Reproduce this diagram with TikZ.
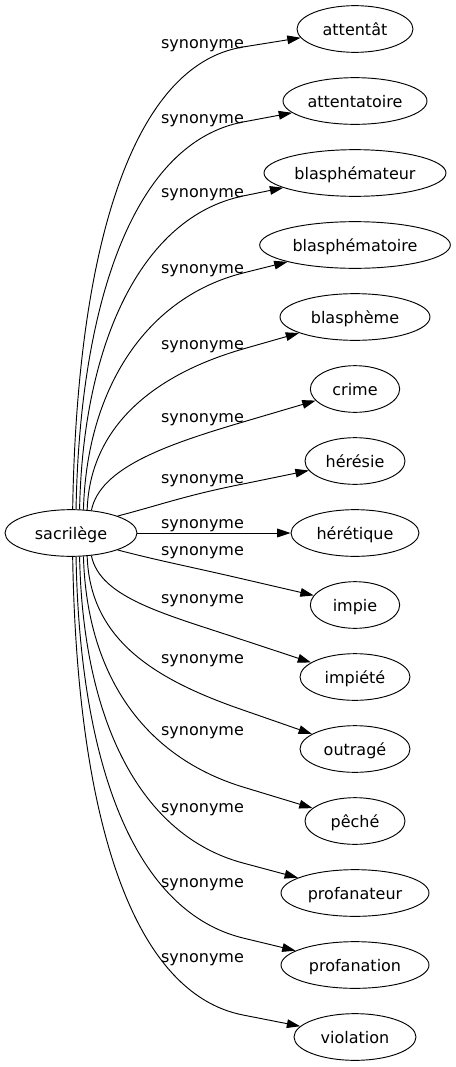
\documentclass[tikz,border=0pt]{standalone}
\usepackage{fontspec}
\setmainfont{DejaVu Sans}
\usetikzlibrary{shapes.geometric, arrows.meta}

\begin{document}
\begin{tikzpicture}[x=0.75pt, y=-0.75pt, >={Triangle[length=10pt, width=6.5pt]}, line width=0.7pt,
    word/.style={draw, ellipse, inner sep=0pt, minimum height=35pt, text height=12.6pt, text depth=3pt, font=\fontsize{12pt}{14pt}\selectfont},
    syn/.style={anchor=base, inner sep=0pt, font=\fontsize{12pt}{14pt}\selectfont}]
  \useasboundingbox (0,0) rectangle (455,1067);

  % words
  \node[word, minimum width=99pt] (sac) at (71,533) {sacrilège};
  \node[word, minimum width=87pt] (attentat) at (355,29) {attentât};
  \node[word, minimum width=108pt] (attentatoire) at (355,101) {attentatoire};
  \node[word, minimum width=136.5pt] (blasphemateur) at (355,173) {blasphémateur};
  \node[word, minimum width=143pt] (blasphematoire) at (355,245) {blasphématoire};
  \node[word, minimum width=112.5pt] (blaspheme) at (355,317) {blasphème};
  \node[word, minimum width=67pt] (crime) at (355,389) {crime};
  \node[word, minimum width=75pt] (heresie) at (355,461) {hérésie};
  \node[word, minimum width=96pt] (heretique) at (355,533) {hérétique};
  \node[word, minimum width=67pt] (impie) at (355,605) {impie};
  \node[word, minimum width=82.5pt] (impiete) at (355,677) {impiété};
  \node[word, minimum width=82.5pt] (outrage) at (355,749) {outragé};
  \node[word, minimum width=75pt] (peche) at (355,821) {pêché};
  \node[word, minimum width=111pt] (profanateur) at (355,893) {profanateur};
  \node[word, minimum width=111pt] (profanation) at (355,965) {profanation};
  \node[word, minimum width=91.5pt] (violation) at (355,1037) {violation};

  % labels
  \node[syn] (s1) at (202.5,48) {synonyme};
  \node[syn] (s2) at (202.5,123) {synonyme};
  \node[syn] (s3) at (202.5,197) {synonyme};
  \node[syn] (s4) at (202.5,273) {synonyme};
  \node[syn] (s5) at (202.5,349) {synonyme};
  \node[syn] (s6) at (202.5,422) {synonyme};
  \node[syn] (s7) at (202.5,483) {synonyme};
  \node[syn] (s8) at (202.5,528) {synonyme};
  \node[syn] (s9) at (202.5,555) {synonyme};
  \node[syn] (s10) at (202.5,603) {synonyme};
  \node[syn] (s11) at (202.5,663) {synonyme};
  \node[syn] (s12) at (202.5,735) {synonyme};
  \node[syn] (s13) at (202.5,812) {synonyme};
  \node[syn] (s14) at (202.5,887) {synonyme};
  \node[syn] (s15) at (202.5,962) {synonyme};

  % edges
  \draw[->] (sac.86) .. controls (77,251) and (131,65) .. (243,47) -- (attentat);
  \draw[->] (sac.78) .. controls (80,295) and (137,142) .. (243,122) -- (attentatoire);
  \draw[->] (sac.70) .. controls (83,342) and (142,217) .. (243,196) -- (blasphemateur);
  \draw[->] (sac.62) .. controls (87,386) and (148,297) .. (243,273) -- (blasphematoire);
  \draw[->] (sac.55) .. controls (90,427) and (153,375) .. (243,349) -- (blaspheme);
  \draw[->] (sac.48) .. controls (100,468) and (165,445) .. (243,422) -- (crime);
  \draw[->] (sac.20) .. controls (160,505) and (187,495) .. (243,484) -- (heresie);
  \draw[->] (sac) -- (heretique);
  \draw[->] (sac.-20) .. controls (160,561) and (187,566) .. (243,579) -- (impie);
  \draw[->] (sac.-48) .. controls (100,598) and (165,614) .. (243,640) -- (impiete);
  \draw[->] (sac.-55) .. controls (90,639) and (153,679) .. (243,710) -- (outrage);
  \draw[->] (sac.-62) .. controls (87,680) and (148,758) .. (243,787) -- (peche);
  \draw[->] (sac.-70) .. controls (83,724) and (142,836) .. (243,863) -- (profanateur);
  \draw[->] (sac.-78) .. controls (80,771) and (137,912) .. (243,938) -- (profanation);
  \draw[->] (sac.-86) .. controls (77,815) and (131,993) .. (243,1015) -- (violation);
\end{tikzpicture}
\end{document}
